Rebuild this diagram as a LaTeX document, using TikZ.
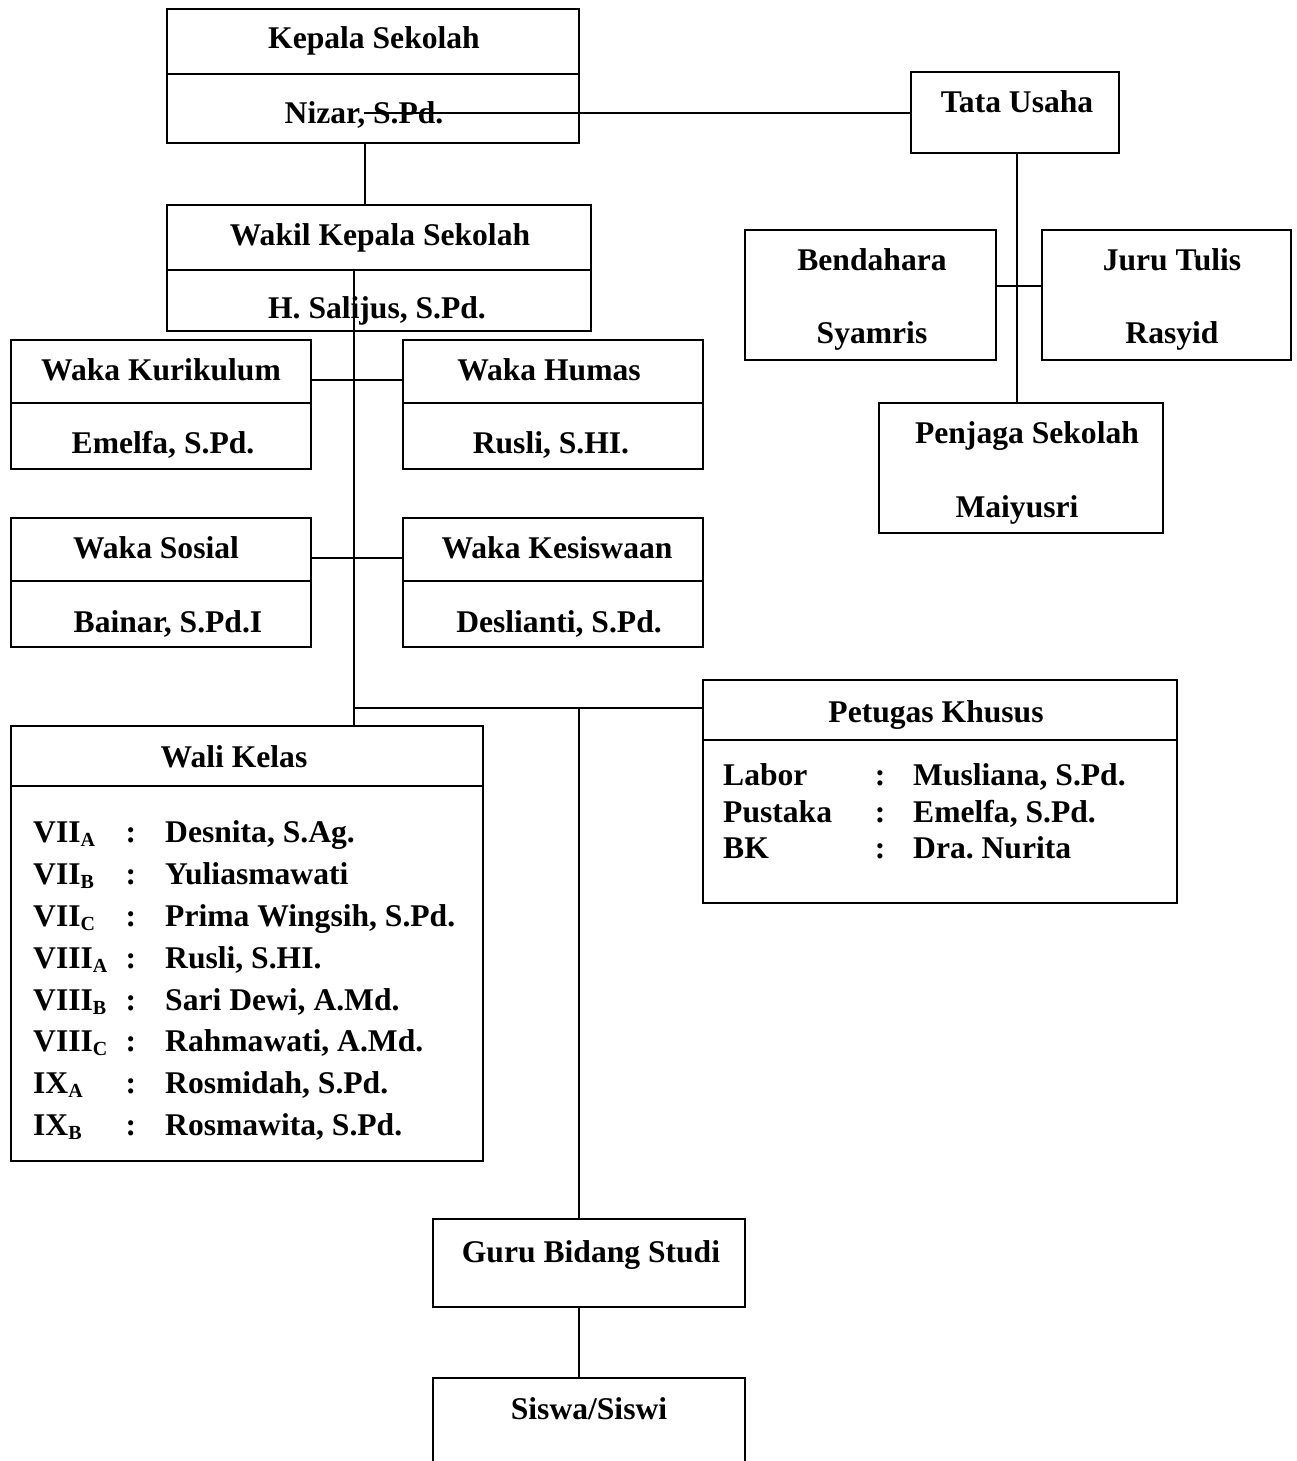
\documentclass[tikz,border=0pt]{standalone}
\usepackage{fontspec}
\setmainfont{Liberation Serif}
\frenchspacing
\newcommand{\sbs}[1]{\raisebox{-4.5pt}{\fontsize{20}{20}\selectfont #1}}
\begin{document}
\begin{tikzpicture}[x=1pt,y=-1pt,
  box/.style={draw, line width=1.6pt, rectangle, inner sep=0pt},
  txt/.style={inner sep=0pt, anchor=base, font=\fontsize{31.6}{38}\selectfont\bfseries},
  lbl/.style={txt, anchor=base west},
  conn/.style={line width=1.6pt}]
\useasboundingbox (0,0) rectangle (1296,1461);
\clip (0,0) rectangle (1296,1461);

% ---- boxes ----
\node[box, minimum width=412pt, minimum height=134pt] (kepala) at (373,76) {};
\node[box, minimum width=424pt, minimum height=126pt] (wakil) at (379,268) {};
\node[box, minimum width=208pt, minimum height=81pt] (tata) at (1015,112.5) {};
\node[box, minimum width=251pt, minimum height=130pt] (bend) at (870.5,295) {};
\node[box, minimum width=249pt, minimum height=130pt] (juru) at (1166.5,295) {};
\node[box, minimum width=284pt, minimum height=130pt] (penjaga) at (1021,468) {};
\node[box, minimum width=300pt, minimum height=129pt] (kuri) at (161,404.5) {};
\node[box, minimum width=300pt, minimum height=129pt] (humas) at (553,404.5) {};
\node[box, minimum width=300pt, minimum height=129pt] (sosial) at (161,582.5) {};
\node[box, minimum width=300pt, minimum height=129pt] (kesis) at (553,582.5) {};
\node[box, minimum width=472pt, minimum height=435pt] (wali) at (247,943.5) {};
\node[box, minimum width=474pt, minimum height=223pt] (petugas) at (940,791.5) {};
\node[box, minimum width=312pt, minimum height=88pt] (guru) at (589,1263) {};
\node[box, minimum width=312pt, minimum height=122pt] (siswa) at (589,1439) {};

% ---- dividers ----
\draw[conn] ([yshift=-66pt]kepala.north west) -- ([yshift=-66pt]kepala.north east);
\draw[conn] ([yshift=-66pt]wakil.north west) -- ([yshift=-66pt]wakil.north east);
\draw[conn] ([yshift=-64pt]kuri.north west) -- ([yshift=-64pt]kuri.north east);
\draw[conn] ([yshift=-64pt]humas.north west) -- ([yshift=-64pt]humas.north east);
\draw[conn] ([yshift=-64pt]sosial.north west) -- ([yshift=-64pt]sosial.north east);
\draw[conn] ([yshift=-64pt]kesis.north west) -- ([yshift=-64pt]kesis.north east);
\draw[conn] ([yshift=-61pt]wali.north west) -- ([yshift=-61pt]wali.north east);
\draw[conn] ([yshift=-61pt]petugas.north west) -- ([yshift=-61pt]petugas.north east);

% ---- texts ----
\node[txt] (tk1) at (374,49) {Kepala Sekolah};
\node[txt] (tk2) at (364,124) {Nizar, S.Pd.};
\node[txt] (tw1) at (380,245) {Wakil Kepala Sekolah};
\node[txt] (tw2) at (377,318) {H. Salijus, S.Pd.};
\node[txt] (tt) at (1017,113) {Tata Usaha};
\node[txt] (tb1) at (872,270) {Bendahara};
\node[txt] (tb2) at (872,343) {Syamris};
\node[txt] (tj1) at (1172,270) {Juru Tulis};
\node[txt] (tj2) at (1172,343) {Rasyid};
\node[txt] (tp1) at (1027,443) {Penjaga Sekolah};
\node[txt] (tp2) at (1017,517) {Maiyusri};
\node[txt] (tku1) at (161,380) {Waka Kurikulum};
\node[txt] (tku2) at (163,453) {Emelfa, S.Pd.};
\node[txt] (th1) at (549,380) {Waka Humas};
\node[txt] (th2) at (551,453) {Rusli, S.HI.};
\node[txt] (ts1) at (156,558) {Waka Sosial};
\node[txt] (ts2) at (168,632) {Bainar, S.Pd.I};
\node[txt] (te1) at (557,558) {Waka Kesiswaan};
\node[txt] (te2) at (559,632) {Deslianti, S.Pd.};
\node[txt] (twk) at (234,767) {Wali Kelas};
\node[txt] (tpk) at (936,722) {Petugas Khusus};
\node[txt] (tg) at (591,1262) {Guru Bidang Studi};
\node[txt] (tsw) at (589,1419) {Siswa/Siswi};

% Wali Kelas list
\node[lbl] (wa1) at (33,842) {VII\sbs{A}};
\node[txt] (wc1) at (131,842) {:};
\node[lbl] (wn1) at (165,842) {Desnita, S.Ag.};
\node[lbl] (wa2) at (33,884) {VII\sbs{B}};
\node[txt] (wc2) at (131,884) {:};
\node[lbl] (wn2) at (165,884) {Yuliasmawati};
\node[lbl] (wa3) at (33,926) {VII\sbs{C}};
\node[txt] (wc3) at (131,926) {:};
\node[lbl] (wn3) at (165,926) {Prima Wingsih, S.Pd.};
\node[lbl] (wa4) at (33,968) {VIII\sbs{A}};
\node[txt] (wc4) at (131,968) {:};
\node[lbl] (wn4) at (165,968) {Rusli, S.HI.};
\node[lbl] (wa5) at (33,1010) {VIII\sbs{B}};
\node[txt] (wc5) at (131,1010) {:};
\node[lbl] (wn5) at (165,1010) {Sari Dewi, A.Md.};
\node[lbl] (wa6) at (33,1051) {VIII\sbs{C}};
\node[txt] (wc6) at (131,1051) {:};
\node[lbl] (wn6) at (165,1051) {Rahmawati, A.Md.};
\node[lbl] (wa7) at (33,1093) {IX\sbs{A}};
\node[txt] (wc7) at (131,1093) {:};
\node[lbl] (wn7) at (165,1093) {Rosmidah, S.Pd.};
\node[lbl] (wa8) at (33,1135) {IX\sbs{B}};
\node[txt] (wc8) at (131,1135) {:};
\node[lbl] (wn8) at (165,1135) {Rosmawita, S.Pd.};

% Petugas list
\node[lbl] (pa1) at (723,785) {Labor};
\node[txt] (pc1) at (880,785) {:};
\node[lbl] (pn1) at (913,785) {Musliana, S.Pd.};
\node[lbl] (pa2) at (723,822) {Pustaka};
\node[txt] (pc2) at (880,822) {:};
\node[lbl] (pn2) at (913,822) {Emelfa, S.Pd.};
\node[lbl] (pa3) at (723,858) {BK};
\node[txt] (pc3) at (880,858) {:};
\node[lbl] (pn3) at (913,858) {Dra. Nurita};

% ---- connectors ----
\coordinate (k1) at (364,113);
\draw[conn] (k1) -- (k1 -| tata.west);
\coordinate (kv) at (365,0);
\draw[conn] (kv |- kepala.south) -- (kv |- wakil.north);
\coordinate (tv) at (1017,0);
\draw[conn] (tv |- tata.south) -- (tv |- penjaga.north);
\coordinate (bj) at (1017,286);
\draw[conn] (bj -| bend.east) -- (bj -| juru.west);
\coordinate (m1) at (354,269);
\draw[conn] (m1) -- (m1 |- wali.north);
\coordinate (kh) at (354,380);
\draw[conn] (kh -| kuri.east) -- (kh -| humas.west);
\coordinate (sk) at (354,558);
\draw[conn] (sk -| sosial.east) -- (sk -| kesis.west);
\coordinate (p1) at (354,708);
\draw[conn] (p1) -- (p1 -| petugas.west);
\coordinate (g1) at (579,708);
\draw[conn] (g1) -- (g1 |- guru.north);
\draw[conn] (g1 |- guru.south) -- (g1 |- siswa.north);
\end{tikzpicture}
\end{document}
